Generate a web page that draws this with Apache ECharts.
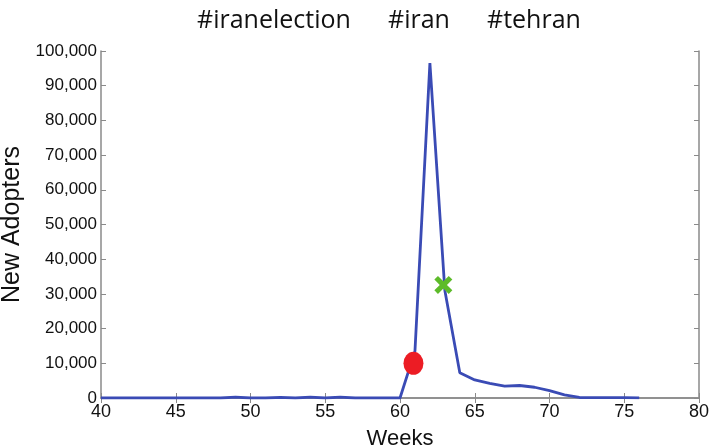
<!DOCTYPE html>
<html>
<head>
<meta charset="utf-8">
<script src="https://cdn.jsdelivr.net/npm/echarts@6/dist/echarts.min.js"></script>
<style>
  html, body { margin: 0; padding: 0; background: #fff; }
  #main { width: 710px; height: 445px; }
</style>
</head>
<body>
<div id="main"></div>
<script>
// weekly new adopters of the hashtags
var weeks = [40, 41, 42, 43, 44, 45, 46, 47, 48, 49, 50, 51, 52, 53, 54, 55, 56, 57, 58,
	59, 60, 61, 62, 63, 64, 65, 66, 67, 68, 69, 70, 71, 72, 73, 74, 75, 76];
var adopters = [0, 0, 0, 0, 0, 0, 0, 0, 0, 250, 0, 0, 200, 0, 250, 0, 250, 0, 0,
	0, 0, 13500, 96500, 31000, 7300, 5200, 4200, 3400, 3600, 3100, 2100, 900, 150, 100, 100, 100, 50];
var redDot = [60.9, 10000]; // 红点
var greenCross = [62.9, 32600]; // 绿叉
var hashtags = ['#iranelection', '#iran', '#tehran'];

var xTicks = [40, 80, 5];
var yTicks = [0, 100000, 10000];

var lineData = weeks.map(function(w, i) {
	return [w, adopters[i]];
});

var axisColor = '#8a8a8a';
var labelFont = 'Liberation Sans';
var titleLeft = [192, 383, 482];

function fmt(v) {
	return String(v).replace(/\B(?=(\d{3})+(?!\d))/g, ',');
}

var myChart = echarts.init(document.getElementById('main'), null, { renderer: 'canvas' });

var option = {
	backgroundColor: '#fff',
	animation: false,
	title: hashtags.map(function(t, i) {
		return {
			text: t,
			left: titleLeft[i],
			top: 3,
			textStyle: {
				fontFamily: 'Open Sans',
				fontWeight: 'normal',
				fontSize: 25,
				color: '#111'
			}
		};
	}),
	grid: {
		left: 101,
		right: 11,
		top: 51,
		bottom: 47,
		outerBoundsMode: 'none',
		containLabel: false
	},
	xAxis: [{
		type: 'value',
		min: xTicks[0],
		max: xTicks[1],
		interval: xTicks[2],
		name: 'Weeks',
		nameLocation: 'middle',
		nameGap: 30,
		nameTextStyle: { fontFamily: labelFont, fontSize: 22, color: '#111' },
		axisLine: { lineStyle: { color: axisColor, width: 1.5 } },
		axisTick: { inside: true, length: 5, lineStyle: { color: axisColor } },
		axisLabel: { fontFamily: labelFont, fontSize: 18, color: '#111', margin: 5 },
		splitLine: { show: false }
	}, {
		type: 'value',
		position: 'top',
		min: xTicks[0],
		max: xTicks[1],
		interval: xTicks[2],
		axisLine: { lineStyle: { color: axisColor, width: 1.5 } },
		axisTick: { inside: true, length: 5, lineStyle: { color: axisColor } },
		axisLabel: { show: false },
		splitLine: { show: false }
	}],
	yAxis: [{
		type: 'value',
		min: yTicks[0],
		max: yTicks[1],
		interval: yTicks[2],
		name: 'New Adopters',
		nameLocation: 'middle',
		nameGap: 60,
		nameTextStyle: { fontFamily: labelFont, fontSize: 25, color: '#111' },
		axisLine: { show: true, lineStyle: { color: axisColor, width: 1.5 } },
		axisTick: { show: true, inside: true, length: 5, lineStyle: { color: axisColor } },
		axisLabel: {
			fontFamily: labelFont,
			fontSize: 17,
			color: '#111',
			margin: 4,
			formatter: fmt
		},
		splitLine: { show: false }
	}, {
		type: 'value',
		position: 'right',
		min: yTicks[0],
		max: yTicks[1],
		interval: yTicks[2],
		axisLine: { show: true, lineStyle: { color: axisColor, width: 1.5 } },
		axisTick: { show: true, inside: true, length: 5, lineStyle: { color: axisColor } },
		axisLabel: { show: false },
		splitLine: { show: false }
	}],
	series: [{
		type: 'line',
		data: lineData,
		showSymbol: false,
		symbol: 'none',
		lineStyle: { color: '#3a4bb5', width: 2.8 },
		z: 2
	}, {
		type: 'scatter',
		data: [redDot],
		symbol: 'circle',
		symbolSize: [20, 23],
		itemStyle: { color: '#ec1c24', opacity: 1 },
		z: 3
	}, {
		type: 'scatter',
		data: [greenCross],
		symbol: 'path://M0,4 L4,0 L10,6 L16,0 L20,4 L14,10 L20,16 L16,20 L10,14 L4,20 L0,16 L6,10 Z',
		symbolSize: 18,
		itemStyle: { color: '#5dbb2a', opacity: 1 },
		z: 3
	}]
};

myChart.setOption(option);
</script>
</body>
</html>
